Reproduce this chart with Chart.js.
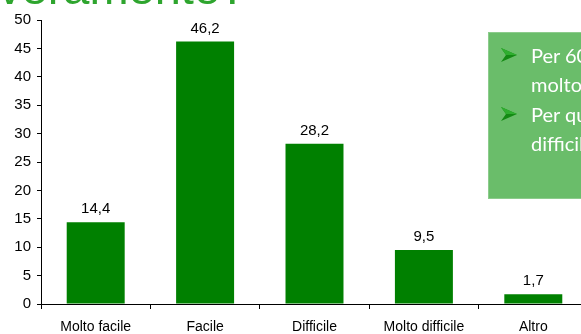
<!DOCTYPE html>
<html>
<head>
<meta charset="utf-8">
<script src="https://cdn.jsdelivr.net/npm/chart.js@4/dist/chart.umd.min.js"></script>
<style>
  html, body { margin: 0; padding: 0; background: #fff; overflow: hidden; width: 581px; height: 334px; }
  #wrap { position: absolute; left: 0; top: 0; width: 600px; height: 334px; }
  #title { position: absolute; left: -2px; top: -40px; font: 47px "Liberation Sans", Arial, sans-serif; color: #2ea52e; white-space: nowrap; }
  #note { position: absolute; left: 488px; top: 32px; width: 130px; height: 167px; background: #6abd6a; border: 1px solid #8ccc8c; box-sizing: border-box; font-family: Lato, "Open Sans", sans-serif; font-size: 20px; color: #fff; }
  .item { position: absolute; left: 12px; white-space: nowrap; line-height: 29px; }
  .item svg { position: absolute; left: 0; top: 7px; }
  .item span { display: block; padding-left: 30px; }
</style>
</head>
<body>
<div id="wrap"><canvas id="c" width="600" height="334"></canvas></div>
<div id="title">veramente?</div>
<div id="note">
  <div class="item" style="top:8px">
    <svg width="16" height="14" viewBox="0 0 16 14"><polygon points="0,0 16,7 0,14 5,7" fill="#138a13"/><polygon points="0,0 16,7 5,7" fill="#2fae2f"/></svg>
    <span>Per 60,6% è facile o</span><span>molto facile</span>
  </div>
  <div class="item" style="top:67px">
    <svg width="16" height="14" viewBox="0 0 16 14"><polygon points="0,0 16,7 0,14 5,7" fill="#138a13"/><polygon points="0,0 16,7 5,7" fill="#2fae2f"/></svg>
    <span>Per quasi il 38% è</span><span>difficile o molto difficile</span>
  </div>
</div>
<script>
const categories = ['Molto facile', 'Facile', 'Difficile', 'Molto difficile', 'Altro'];
const values = [14.4, 46.2, 28.2, 9.5, 1.7];
const yTicks = [0, 5, 10, 15, 20, 25, 30, 35, 40, 45, 50];

const font = 'Liberation Sans, Arial, sans-serif';

// Value labels above each bar, written with a decimal comma
const valueLabels = {
  id: 'valueLabels',
  afterDatasetsDraw(chart) {
    const ctx = chart.ctx;
    const meta = chart.getDatasetMeta(0);
    ctx.save();
    ctx.fillStyle = '#000';
    ctx.font = '15px ' + font;
    ctx.textAlign = 'center';
    ctx.textBaseline = 'alphabetic';
    meta.data.forEach((bar, i) => {
      ctx.fillText(values[i].toFixed(1).replace('.', ','), bar.x, bar.y - 9);
    });
    ctx.restore();
  }
};

new Chart(document.getElementById('c'), {
  type: 'bar',
  data: {
    labels: categories,
    datasets: [{
      data: values,
      backgroundColor: '#008000',
      borderWidth: 0,
      categoryPercentage: 1,
      barPercentage: 0.53
    }]
  },
  options: {
    responsive: false,
    animation: false,
    layout: { padding: { top: 20, right: 12, left: 0, bottom: 0 } },
    plugins: { legend: { display: false }, tooltip: { enabled: false } },
    scales: {
      x: {
        grid: { offset: true, drawOnChartArea: false, drawTicks: true, tickLength: 5, color: '#000' },
        border: { display: true, color: '#000', width: 1 },
        ticks: { color: '#000', font: { family: font, size: 14 }, padding: 10, maxRotation: 0, autoSkip: false },
        afterFit(scale) { scale.height = 30; }
      },
      y: {
        min: 0,
        max: 50,
        afterBuildTicks(scale) { scale.ticks = yTicks.map(v => ({ value: v })); },
        grid: { drawOnChartArea: false, drawTicks: true, tickLength: 4, color: '#000' },
        border: { display: true, color: '#000', width: 1 },
        ticks: { color: '#000', font: { family: font, size: 15 }, padding: 6 },
        afterFit(scale) { scale.width = 41; }
      }
    }
  },
  plugins: [valueLabels]
});
</script>
</body>
</html>
